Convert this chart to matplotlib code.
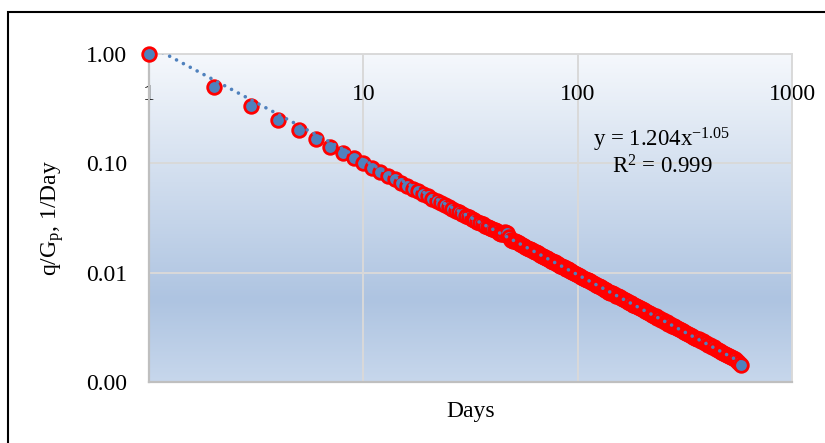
import numpy as np
import matplotlib
matplotlib.use("Agg")
import matplotlib.pyplot as plt
from matplotlib.colors import LinearSegmentedColormap
from matplotlib.ticker import FuncFormatter, FixedLocator, NullLocator

# Days and q/Gp values (daily early on, thinned later)
days = [
    1, 2, 3, 4, 5, 6, 7, 8, 9, 10,
    11, 12, 13, 14, 15, 16, 17, 18, 19, 20,
    21, 22, 23, 24, 25, 26, 27, 28, 29, 30,
    31, 32, 33, 34, 35, 36, 37, 38, 39, 40,
    41, 42, 43, 44, 45, 46, 47, 48, 49, 50,
    51, 52, 53, 54, 55, 56, 57, 58, 59, 60,
    61, 62, 63, 64, 65, 66, 67, 68, 69, 70,
    71, 72, 73, 74, 75, 76, 77, 78, 79, 80,
    81, 82, 83, 84, 85, 86, 87, 88, 89, 90,
    91, 92, 93, 94,
    96, 98, 100, 102, 104, 106, 108, 110, 112, 114, 116, 118,
    120, 122, 124, 126, 128, 130, 132, 134, 136, 138, 140,
    142, 145, 148, 151, 154, 157, 160, 163, 166, 169, 172, 175,
    178, 181, 184, 187,
    191, 195, 199, 203, 207, 211, 215, 219, 223, 227, 231, 235,
    240, 245, 250, 255, 260, 265, 270, 275, 280, 285,
    291, 297, 303, 309, 315, 321, 327, 333,
    340, 347, 354, 361, 368, 375,
    383, 391, 399, 407, 415, 423,
    432, 441, 450, 459, 468,
    478, 488, 498, 508, 518,
    530, 542, 554, 566, 578,
]
q_gp = [
    1.000, 0.500, 0.334, 0.249, 0.200, 0.167, 0.142, 0.125, 0.111, 0.100,
    0.0905, 0.0830, 0.0765, 0.0712, 0.0664, 0.0622, 0.0586, 0.0553, 0.0524, 0.0498,
    0.0474, 0.0452, 0.0433, 0.0415, 0.0398, 0.0383, 0.0369, 0.0356, 0.0343, 0.0332,
    0.0321, 0.0311, 0.0302, 0.0293, 0.0285, 0.0277, 0.0270, 0.0263, 0.0256, 0.0250,
    0.0244, 0.0238, 0.0233, 0.0228, 0.0224, 0.0236, 0.0229, 0.0212, 0.0199, 0.0196,
    0.0194, 0.0190, 0.0187, 0.0182, 0.0179, 0.0176, 0.0173, 0.0169, 0.0166, 0.0164,
    0.0161, 0.0158, 0.0155, 0.0153, 0.0150, 0.0148, 0.0146, 0.0143, 0.0141, 0.0139,
    0.0137, 0.0135, 0.0133, 0.0131, 0.0129, 0.0128, 0.0126, 0.0124, 0.0122, 0.0121,
    0.0119, 0.0118, 0.0116, 0.0115, 0.0113, 0.0112, 0.0111, 0.0109, 0.0108, 0.0107,
    0.0106, 0.0104, 0.0103, 0.0102,
    0.00998, 0.00977, 0.00950, 0.00938, 0.00915, 0.00900, 0.00884, 0.00862,
    0.00849, 0.00836, 0.00816, 0.00804, 0.00792, 0.00774, 0.00763, 0.00752,
    0.00736, 0.00726, 0.00716, 0.00700, 0.00688, 0.00668, 0.00665,
    0.00658, 0.00647, 0.00636, 0.00618, 0.00610, 0.00594, 0.00586, 0.00571,
    0.00564, 0.00549, 0.00543, 0.00529, 0.00524, 0.00511, 0.00506, 0.00494,
    0.00487, 0.00472, 0.00466, 0.00452, 0.00448, 0.00434, 0.00430, 0.00418,
    0.00414, 0.00402, 0.00398, 0.00388,
    0.00383, 0.00371, 0.00367, 0.00355, 0.00352, 0.00342, 0.00338, 0.00328,
    0.00326, 0.00317,
    0.00313, 0.00303, 0.00300, 0.00290, 0.00288, 0.00279, 0.00277, 0.00269,
    0.00266, 0.00257, 0.00255, 0.00247, 0.00245, 0.00237,
    0.00235, 0.00227, 0.00225, 0.00218, 0.00216, 0.00209,
    0.00207, 0.00200, 0.00198, 0.00192, 0.00190,
    0.00184, 0.00182, 0.00176, 0.00174, 0.00169,
    0.00166, 0.00161, 0.00156, 0.00149, 0.00143,
]

# power trendline shown on the chart
trend_a = 1.204
trend_b = -1.05
trend_label = "y = 1.204x$^{-1.05}$"
r2_label = "R$^{2}$ = 0.999"

x_ticks = [1, 10, 100, 1000]
y_ticks = [0.001, 0.01, 0.1, 1.0]

plt.rcParams["font.family"] = ["Liberation Serif", "DejaVu Serif"]
plt.rcParams["mathtext.fontset"] = "custom"
plt.rcParams["mathtext.rm"] = "Liberation Serif"
plt.rcParams["mathtext.default"] = "regular"

fig = plt.figure(figsize=(8.25, 4.43), dpi=100)
ax = fig.add_axes([149 / 825, 1 - 382 / 443, 643 / 825, 328 / 443])

# gradient fill of the plot area
grad = LinearSegmentedColormap.from_list(
    "bg", [(0.0, "#C7D7EC"), (0.25, "#AEC4E1"), (1.0, "#F5F8FC")])
ax.imshow(np.linspace(1, 0, 256).reshape(-1, 1), cmap=grad, vmin=0, vmax=1,
          aspect="auto", extent=[0, 1, 0, 1], transform=ax.transAxes,
          zorder=0, interpolation="bicubic")

ax.set_xscale("log")
ax.set_yscale("log")
ax.set_xlim(1, 1000)
ax.set_ylim(0.001, 1)

ax.xaxis.set_major_locator(FixedLocator(x_ticks))
ax.yaxis.set_major_locator(FixedLocator(y_ticks))
ax.xaxis.set_minor_locator(NullLocator())
ax.yaxis.set_minor_locator(NullLocator())
ax.xaxis.set_major_formatter(FuncFormatter(lambda v, _: f"{v:g}"))
ax.yaxis.set_major_formatter(FuncFormatter(lambda v, _: f"{v:.2f}"))

ax.grid(True, color="#D9D9D9", linewidth=1.4, zorder=1)
ax.set_axisbelow(True)
for side in ["left", "bottom"]:
    ax.spines[side].set_color("#BFBFBF")
    ax.spines[side].set_linewidth(1.6)
for side in ["top", "right"]:
    ax.spines[side].set_color("#D9D9D9")
    ax.spines[side].set_linewidth(1.4)

ax.tick_params(axis="x", bottom=False, top=False, labelbottom=False,
               labeltop=True, length=0, pad=-37, labelsize=17)
ax.tick_params(axis="y", length=0, pad=16, labelsize=17)
for lab in ax.get_xticklabels():
    lab.set_clip_on(False)

ax.plot(days, q_gp, linestyle="none", marker="o", markersize=9.8,
        markerfacecolor="#4F81BD", markeredgecolor="#FF0000",
        markeredgewidth=2.0, zorder=3, clip_on=False)

tx = np.geomspace(days[0], days[-1], 300)
ax.plot(tx, trend_a * tx ** trend_b, color="#4F81BD", linewidth=2.6,
        linestyle=(0, (0.01, 2.15)), dash_capstyle="round", zorder=4)

ax.text(0.798, 0.738, trend_label, transform=ax.transAxes, ha="center",
        va="center", fontsize=16.5, zorder=5)
ax.text(0.798, 0.655, r2_label, transform=ax.transAxes, ha="center",
        va="center", fontsize=16.5, zorder=5)

ax.set_xlabel("Days", fontsize=17, labelpad=14)
ax.set_ylabel("q/G$_{p}$, 1/Day", fontsize=17, labelpad=14)

# outer chart border (cropped at right and bottom)
fig.add_artist(plt.Rectangle((7.5 / 825, -0.1), 1.2, 0.1 + 1 - 12.5 / 443,
                             transform=fig.transFigure, fill=False,
                             edgecolor="black", linewidth=1.5))

fig.savefig("out.png", dpi=100)
